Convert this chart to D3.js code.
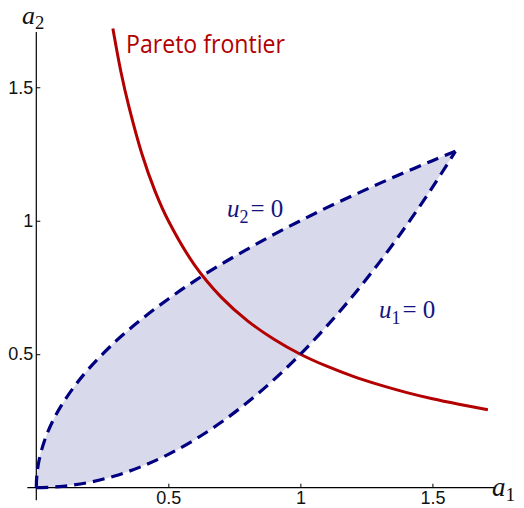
<!DOCTYPE html>
<html>
<head>
<meta charset="utf-8">
<script src="https://cdn.jsdelivr.net/npm/d3@7"></script>
<style>
  html, body { margin: 0; padding: 0; background: #fff; }
  svg { display: block; }
</style>
</head>
<body>
<svg id="chart" width="524" height="508"></svg>
<script>
// Boundary u2 = 0 (upper edge of the shaded region): [a1, a2]
const u2Curve = [
  [0, 0], [0.002, 0.045], [0.01, 0.1], [0.03, 0.173], [0.06, 0.245], [0.1, 0.316],
  [0.15, 0.387], [0.2, 0.447], [0.3, 0.548], [0.4, 0.632], [0.5, 0.707],
  [0.6, 0.775], [0.7, 0.837], [0.8, 0.894], [0.9, 0.949], [1.0, 1.0],
  [1.1, 1.049], [1.2, 1.095], [1.3, 1.14], [1.4, 1.183], [1.5, 1.225], [1.587, 1.26]
];
// Boundary u1 = 0 (lower edge of the shaded region): [a1, a2]
const u1Curve = [
  [0, 0], [0.1, 0.005], [0.2, 0.02], [0.3, 0.045], [0.4, 0.08], [0.5, 0.125],
  [0.6, 0.18], [0.7, 0.245], [0.8, 0.32], [0.9, 0.405], [1.0, 0.5],
  [1.1, 0.605], [1.2, 0.72], [1.3, 0.845], [1.4, 0.98], [1.5, 1.125], [1.587, 1.26]
];
// Pareto frontier: [a1, a2]
const paretoCurve = [
  [0.29, 1.72], [0.32, 1.56], [0.35, 1.43], [0.4, 1.25], [0.45, 1.11], [0.5, 1.0],
  [0.6, 0.833], [0.7, 0.714], [0.8, 0.625], [0.9, 0.556], [1.0, 0.5],
  [1.1, 0.455], [1.2, 0.417], [1.3, 0.385], [1.4, 0.357], [1.5, 0.333],
  [1.6, 0.3125], [1.71, 0.292]
];
const xTicks = [0.5, 1, 1.5];
const xTickLabels = ["0.5", "1", "1.5"];
const yTicks = [0.5, 1, 1.5];
const yTickLabels = ["0.5", "1", "1.5"];

const svg = d3.select("#chart");

const x = d3.scaleLinear().domain([0, 1.737]).range([36.3, 495]);
const y = d3.scaleLinear().domain([0, 1.707]).range([487.7, 32]);

const navy = "#000080";
const red = "#b30000";

// Shaded feasible region between the two boundaries
const region = u2Curve.concat(u1Curve.slice().reverse());
const curveLine = d3.line().x(d => x(d[0])).y(d => y(d[1])).curve(d3.curveCatmullRom);
svg.append("path")
  .attr("d", d3.line().x(d => x(d[0])).y(d => y(d[1])).curve(d3.curveCatmullRomClosed)(region.slice(0, -1)))
  .attr("fill", "#d8d9eb")
  .attr("stroke", "none");

// Axes, extended slightly past the origin
const axisG = svg.append("g").attr("class", "axes");
axisG.append("line")
  .attr("x1", x(-0.034)).attr("x2", x(1.737))
  .attr("y1", y(0)).attr("y2", y(0))
  .attr("stroke", "#000").attr("stroke-width", 1.2);
axisG.append("line")
  .attr("x1", x(0)).attr("x2", x(0))
  .attr("y1", y(-0.047)).attr("y2", y(1.707))
  .attr("stroke", "#000").attr("stroke-width", 1.2);

const xAxis = d3.axisBottom(x)
  .tickValues(xTicks)
  .tickFormat((d, i) => xTickLabels[i])
  .tickSizeInner(-4).tickSizeOuter(0).tickPadding(3.5);
const gx = svg.append("g").attr("transform", `translate(0,${y(0)})`).call(xAxis);
gx.select(".domain").remove();

const yAxis = d3.axisLeft(y)
  .tickValues(yTicks)
  .tickFormat((d, i) => yTickLabels[i])
  .tickSizeInner(-4).tickSizeOuter(0).tickPadding(3);
const gy = svg.append("g").attr("transform", `translate(${x(0)},0)`).call(yAxis);
gy.select(".domain").remove();

[gx, gy].forEach(g => {
  g.selectAll(".tick line").attr("stroke", "#000").attr("stroke-width", 1);
  g.selectAll(".tick text")
    .attr("font-family", "'Liberation Sans', Arial, sans-serif")
    .attr("font-size", 18)
    .attr("fill", "#111");
});

// Pareto frontier
svg.append("path")
  .attr("d", curveLine(paretoCurve))
  .attr("fill", "none")
  .attr("stroke", red)
  .attr("stroke-width", 3);

// Dashed boundaries
[u2Curve, u1Curve].forEach(c => {
  svg.append("path")
    .attr("d", curveLine(c))
    .attr("fill", "none")
    .attr("stroke", navy)
    .attr("stroke-width", 3.2)
    .attr("stroke-dasharray", "12,7");
});

// Math-style labels: italic symbol, upright subscript, optional trailing text
function mathLabel(px, py, base, sub, rest, size, color, subShift) {
  const shift = subShift != null ? subShift : size * 0.24;
  const t = svg.append("text")
    .attr("x", px).attr("y", py)
    .attr("font-family", "'Liberation Serif', 'Times New Roman', serif")
    .attr("fill", color);
  t.append("tspan").attr("font-style", "italic").attr("font-size", size).text(base);
  t.append("tspan").attr("font-size", size * 0.72).attr("dy", shift).text(sub);
  if (rest) {
    t.append("tspan").attr("font-size", size).attr("dy", -shift)
      .attr("dx", 2).text(rest);
  }
  return t;
}
mathLabel(22, 24, "a", "2", null, 26, "#111", 5);
mathLabel(492, 496, "a", "1", null, 27, "#111", 4.5);
mathLabel(227, 217, "u", "2", "= 0", 25, "#14147f");
mathLabel(379, 318, "u", "1", "= 0", 25, "#14147f");

// Pareto frontier label
svg.append("text")
  .attr("x", 126).attr("y", 53)
  .attr("font-family", "'Open Sans', 'Noto Sans', sans-serif")
  .attr("font-size", 25)
  .attr("textLength", 159)
  .attr("lengthAdjust", "spacingAndGlyphs")
  .attr("fill", red)
  .text("Pareto frontier");
</script>
</body>
</html>
